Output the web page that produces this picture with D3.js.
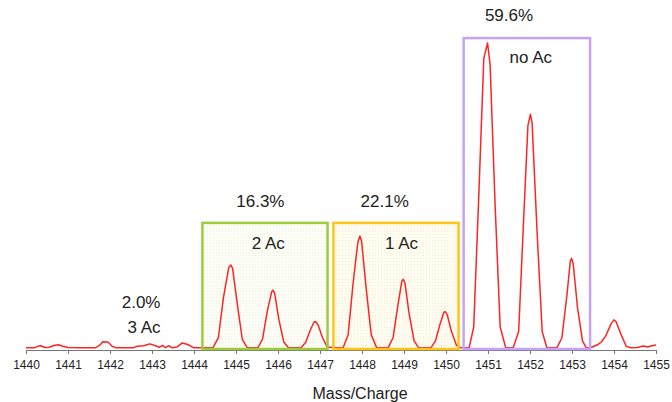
<!DOCTYPE html>
<html>
<head>
<meta charset="utf-8">
<script src="https://cdn.jsdelivr.net/npm/d3@7"></script>
<style>
  body { margin: 0; background: #fff; }
  svg { display: block; font-family: "Liberation Sans", Arial, sans-serif; }
</style>
</head>
<body>
<svg id="chart" width="672" height="402"></svg>
<script>
// spectrum points (mass, relative intensity %)
const mass = [
  1440.00, 1440.20, 1440.28, 1440.35, 1440.45, 1440.55, 1440.65, 1440.77, 1440.88, 1441.00,
  1441.30, 1441.65, 1441.75, 1441.83, 1441.95, 1442.05, 1442.15, 1442.55, 1442.65, 1442.80,
  1442.95, 1443.08, 1443.18, 1443.25, 1443.32, 1443.40, 1443.48, 1443.60, 1443.72, 1443.85,
  1444.00, 1444.30,
  1444.45, 1444.58, 1444.70, 1444.83, 1444.88, 1444.92, 1445.03, 1445.15, 1445.27,
  1445.52, 1445.63, 1445.75, 1445.85, 1445.88, 1445.92, 1446.02, 1446.14, 1446.25,
  1446.55, 1446.66, 1446.77, 1446.86, 1446.90, 1446.96, 1447.06, 1447.17, 1447.30, 1447.42,
  1447.55, 1447.67, 1447.79, 1447.90, 1447.95, 1447.99, 1448.10, 1448.22, 1448.35,
  1448.62, 1448.74, 1448.86, 1448.95, 1448.98, 1449.02, 1449.12, 1449.24, 1449.35,
  1449.64, 1449.75, 1449.86, 1449.95, 1449.98, 1450.03, 1450.13, 1450.25, 1450.35,
  1450.55, 1450.66, 1450.78, 1450.90, 1450.99, 1451.05, 1451.17, 1451.29, 1451.42,
  1451.60, 1451.73, 1451.84, 1451.95, 1452.01, 1452.05, 1452.17, 1452.29, 1452.40,
  1452.64, 1452.76, 1452.88, 1452.96, 1452.99, 1453.03, 1453.13, 1453.25, 1453.34,
  1453.45, 1453.62, 1453.70, 1453.80, 1453.93, 1454.00, 1454.05, 1454.17, 1454.29,
  1454.40, 1454.55, 1454.70, 1454.80, 1454.90, 1455.00
];
const intensity = [
  0.7, 0.7, 1.2, 1.4, 0.8, 0.9, 1.4, 1.7, 1.2, 0.8,
  0.7, 0.7, 1.5, 2.7, 2.6, 1.2, 0.7, 0.7, 1.2, 1.4,
  2.0, 1.4, 0.9, 1.5, 0.8, 1.4, 0.7, 1.0, 2.3, 1.8,
  0.7, 0.7,
  0.7, 4, 17, 27, 27.7, 26.5, 15, 3.5, 0.7,
  0.7, 3.5, 13, 19, 19.5, 18.5, 10, 2.5, 0.7,
  0.7, 2.5, 6.5, 9.2, 9.2, 8, 4, 1, 0.8, 0.7,
  0.7, 5, 22, 35, 37.1, 35.5, 20, 5, 0.7,
  0.7, 4, 15, 22.5, 23, 22, 12, 3, 0.7,
  0.7, 3, 8.5, 12.3, 12.5, 11.5, 6, 1.5, 0.7,
  0.7, 7.5, 50, 95, 100, 93, 47, 7.5, 0.8,
  0.7, 6, 40, 73, 76.8, 74, 38, 6, 0.8,
  0.7, 4, 18, 29, 29.9, 28, 14, 3, 0.7,
  0.8, 1.8, 2.6, 4.5, 8.5, 9.8, 9.2, 5.0, 1.2,
  0.7, 0.8, 1.3, 1.0, 1.4, 1.6
];

const ticks = d3.range(1440, 1456, 1);

// acetylation groups
const groupNames = ["3 Ac", "2 Ac", "1 Ac", "no Ac"];
const groupShares = ["2.0%", "16.3%", "22.1%", "59.6%"];
const groupStart = [null, 1444.2, 1447.32, 1450.42];
const groupEnd = [null, 1447.18, 1450.30, 1453.43];
const groupTop = [null, 41.4, 41.4, 101.6];

const svg = d3.select("#chart");

const x = d3.scaleLinear().domain([1440, 1455]).range([26, 656]);
const y = d3.scaleLinear().domain([0, 100]).range([350, 43]);

// box styles
const boxStroke = [null, "#9ccc3a", "#ffc41a", "#c7a3f7"];
const boxFill = [null, "url(#dotsGreen)", "url(#dotsYellow)", "#ffffff"];

const defs = svg.append("defs");
function dots(id, bg, dot) {
  const p = defs.append("pattern").attr("id", id)
    .attr("width", 3).attr("height", 3).attr("patternUnits", "userSpaceOnUse");
  p.append("rect").attr("width", 3).attr("height", 3).attr("fill", bg);
  p.append("rect").attr("width", 1).attr("height", 1).attr("fill", dot);
}
dots("dotsGreen", "#fdfef7", "#eef2dc");
dots("dotsYellow", "#fffdf2", "#f8efd2");

const groups = groupNames.map((name, i) => ({
  name, share: groupShares[i], x0: groupStart[i], x1: groupEnd[i], top: groupTop[i], i
}));
const boxed = groups.filter(g => g.x0 !== null);

// box fills under the trace
svg.selectAll(".boxFill").data(boxed).enter().append("rect")
  .attr("class", "boxFill")
  .attr("x", d => x(d.x0))
  .attr("y", d => y(d.top))
  .attr("width", d => x(d.x1) - x(d.x0))
  .attr("height", d => y(0) - 1 - y(d.top))
  .attr("fill", d => boxFill[d.i]);

// axis
const xAxis = d3.axisBottom(x).tickValues(ticks).tickFormat(d3.format("d"))
  .tickSize(4).tickSizeOuter(0).tickPadding(6);
const gx = svg.append("g").attr("transform", `translate(0,${y(0)})`).call(xAxis);
gx.select(".domain").attr("stroke", "#777").attr("stroke-width", 1.2);
gx.selectAll(".tick line").attr("stroke", "#777");
gx.selectAll(".tick text").attr("fill", "#222").style("font-size", "12px");

// spectrum trace
const pts = mass.map((m, i) => [m, intensity[i]]);
const line = d3.line().x(d => x(d[0])).y(d => y(d[1]));
svg.append("path").datum(pts)
  .attr("d", line)
  .attr("fill", "none")
  .attr("stroke", "#ff2424")
  .attr("stroke-width", 1.5)
  .attr("stroke-linejoin", "round");

// box outlines on top
svg.selectAll(".boxLine").data(boxed).enter().append("rect")
  .attr("class", "boxLine")
  .attr("x", d => x(d.x0))
  .attr("y", d => y(d.top))
  .attr("width", d => x(d.x1) - x(d.x0))
  .attr("height", d => y(0) - 1 - y(d.top))
  .attr("fill", "none")
  .attr("stroke", d => boxStroke[d.i])
  .attr("stroke-width", 2.5);

// labels: share above the box, name inside it
const shareX = [1442.74, 1445.58, 1448.54, 1451.50];
const nameX = [1442.81, 1445.77, 1448.94, 1452.02];
const shareY = [13.7, 46.7, 46.7, 107.2];
const nameY = [5.5, 32.9, 32.9, 93.5];

svg.selectAll(".share").data(groups).enter().append("text")
  .attr("class", "share")
  .attr("x", d => x(shareX[d.i]))
  .attr("y", d => y(shareY[d.i]))
  .attr("text-anchor", "middle")
  .attr("fill", "#222")
  .style("font-size", "17px")
  .text(d => d.share);

svg.selectAll(".name").data(groups).enter().append("text")
  .attr("class", "name")
  .attr("x", d => x(nameX[d.i]))
  .attr("y", d => y(nameY[d.i]))
  .attr("text-anchor", "middle")
  .attr("fill", "#222")
  .style("font-size", "17px")
  .text(d => d.name);

svg.append("text")
  .attr("x", 360).attr("y", 399)
  .attr("text-anchor", "middle")
  .attr("fill", "#222")
  .style("font-size", "16px")
  .text("Mass/Charge");
</script>
</body>
</html>
